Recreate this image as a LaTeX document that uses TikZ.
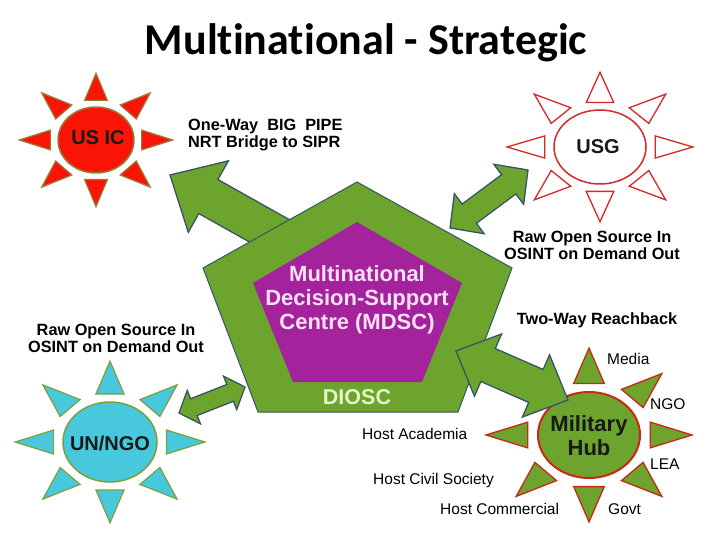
\documentclass[tikz,border=0pt]{standalone}
\usepackage{fontspec}
\setmainfont{Liberation Sans}
\newfontfamily\titlefont[Ligatures=NoCommon]{Carlito}
\usetikzlibrary{calc,shapes.geometric}

\definecolor{grn}{RGB}{108,164,46}
\definecolor{arrline}{RGB}{55,85,100}
\definecolor{purp}{RGB}{164,34,156}
\definecolor{purptext}{RGB}{250,225,245}
\definecolor{dioscc}{RGB}{230,245,200}
\definecolor{usicred}{RGB}{250,20,5}
\definecolor{usicline}{RGB}{150,125,60}
\definecolor{cyanfill}{RGB}{72,200,220}
\definecolor{cyanline}{RGB}{125,160,60}
\definecolor{hubline}{RGB}{200,40,20}
\definecolor{usgline}{RGB}{215,40,40}

% one-way block arrow: #1 tail, #2 tip, #3 shaft half width, #4 head half width, #5 head length
\newcommand{\onewayarrow}[5]{%
  \path ($(#2)!#5!(#1)$) coordinate (ah);
  \draw[blockarrow] ($(#1)!#3!90:(#2)$) -- ($(ah)!#3!90:(#2)$) -- ($(ah)!#4!90:(#2)$) -- (#2)
    -- ($(ah)!#4!-90:(#2)$) -- ($(ah)!#3!-90:(#2)$) -- ($(#1)!#3!-90:(#2)$) -- cycle;}
% two-way block arrow: #1 tip A, #2 tip B, #3 shaft half, #4 head half, #5 head length
\newcommand{\twowayarrow}[5]{%
  \path ($(#1)!#5!(#2)$) coordinate (ha) ($(#2)!#5!(#1)$) coordinate (hb);
  \draw[blockarrow] ($(ha)!#4!90:(#1)$) -- (#1) -- ($(ha)!#4!-90:(#1)$) -- ($(ha)!#3!-90:(#1)$)
    -- ($(hb)!#3!90:(#2)$) -- ($(hb)!#4!90:(#2)$) -- (#2) -- ($(hb)!#4!-90:(#2)$)
    -- ($(hb)!#3!-90:(#2)$) -- ($(ha)!#3!90:(#1)$) -- cycle;}
% sun rays: #1 centre, #2 rx, #3 ry, #4 fill, #5 draw, #6 line width
\newcommand{\sunrays}[6]{%
  \begin{scope}[shift={(#1)}, xscale=#2, yscale=#3]
    \foreach \a in {0,45,...,315}
      \draw[fill=#4, draw=#5, line width=#6, line join=miter, rotate=\a]
        (1.2,0.3) -- (2.02,0) -- (1.2,-0.3) -- cycle;
  \end{scope}}

\begin{document}
\begin{tikzpicture}[x=1pt,y=-1pt,
  bl/.style={font=\bfseries\fontsize{16.3}{17.5}\selectfont, inner sep=0pt, align=center},
  lab/.style={font=\fontsize{15.5}{17}\selectfont, inner sep=0pt, anchor=base west},
  suntext/.style={inner sep=0pt, font=\bfseries\fontsize{20}{24}\selectfont, align=center, text=black!90},
  blockarrow/.style={fill=grn, draw=arrline, line width=1.3pt, line join=miter}]

\useasboundingbox (0,0) rectangle (720,540);
\fill[white] (0,0) rectangle (720,540);

% title
\node[font=\titlefont\bfseries\fontsize{44}{44}\selectfont, anchor=base, inner sep=0pt] (title) at (366,55) {Multinational - Strategic};

% arrow to US IC (behind the pentagon)
\coordinate (a1tail) at (300,248);
\coordinate (a1tip) at (170,175);
\onewayarrow{a1tail}{a1tip}{19.5pt}{41pt}{44pt}

% pentagons
\coordinate (o1) at (357,182); \coordinate (o2) at (512,268); \coordinate (o3) at (458,412);
\coordinate (o4) at (258,412); \coordinate (o5) at (203,268);
\draw[fill=grn, draw=arrline, line width=1pt, line join=miter] (o1) -- (o2) -- (o3) -- (o4) -- (o5) -- cycle;
\coordinate (i1) at (357,222); \coordinate (i2) at (462,283); \coordinate (i3) at (422,382);
\coordinate (i4) at (293,382); \coordinate (i5) at (253,283);
\fill[purp] (i1) -- (i2) -- (i3) -- (i4) -- (i5) -- cycle;

\node[font=\bfseries\fontsize{22}{24}\selectfont, text=purptext, align=center, inner sep=0pt] (mdsc) at (357,300)
  {Multinational\\Decision-Support\\Centre (MDSC)};
\node[font=\bfseries\fontsize{21.5}{24}\selectfont, text=dioscc, anchor=base, inner sep=0pt] (diosc) at (357,404.7) {DIOSC};

% suns
\sunrays{96,140}{38}{33}{usicred}{usicline}{1.2pt}
\node[ellipse, minimum width=76pt, minimum height=66pt, fill=usicred, draw=usicline, line width=1.5pt] (usic) at (96,140) {};
\node[suntext, anchor=base] (usictext) at (98,145) {US IC};

\sunrays{600,147}{46}{37}{white}{usgline}{1.3pt}
\node[ellipse, minimum width=92pt, minimum height=74pt, fill=white, draw=usgline, line width=1.5pt] (usg) at (600,147) {};
\node[suntext, anchor=base] (usgtext) at (598,154) {USG};

\sunrays{110,442}{47}{40}{cyanfill}{cyanline}{1.2pt}
\node[ellipse, minimum width=94pt, minimum height=80pt, fill=cyanfill, draw=cyanline, line width=1.5pt] (unngo) at (110,442) {};
\node[suntext, anchor=base] (unngotext) at (110,450) {UN/NGO};

\sunrays{589,435}{51}{43}{grn}{hubline}{1.3pt}
\node[ellipse, minimum width=102pt, minimum height=86pt, fill=grn, draw=hubline, line width=2pt] (hub) at (589,435) {};
\node[suntext, font=\bfseries\fontsize{22}{24}\selectfont] (hubtext) at (589,436) {Military\\Hub};

% two-way arrows
\coordinate (a2a) at (450,228); \coordinate (a2b) at (528,170);
\twowayarrow{a2a}{a2b}{12pt}{25pt}{24pt}
\coordinate (a3a) at (179,413); \coordinate (a3b) at (245,387);
\twowayarrow{a3a}{a3b}{9pt}{18pt}{16pt}
\coordinate (a4a) at (456,351); \coordinate (a4b) at (568,400);
\twowayarrow{a4a}{a4b}{18pt}{34pt}{35pt}

% bold labels
\node[bl, align=left, anchor=west] (pipe) at (188,135) {One-Way\ \ BIG\ \ PIPE\\NRT Bridge to SIPR};
\node[bl] (rawright) at (592,245.5) {Raw Open Source In\\OSINT on Demand Out};
\node[bl] (rawleft) at (116,338.5) {Raw Open Source In\\OSINT on Demand Out};
\node[bl, anchor=base] (reach) at (597,324.8) {Two-Way Reachback};

% hub labels
\node[lab] (media) at (607,364.5) {Media};
\node[lab] (ngo) at (650,409.5) {NGO};
\node[lab] (lea) at (650,469.5) {LEA};
\node[lab] (govt) at (608,514.5) {Govt};
\node[lab] (acad) at (362,439.5) {Host Academia};
\node[lab] (civil) at (373,484.5) {Host Civil Society};
\node[lab] (comm) at (440,514.5) {Host Commercial};
\end{tikzpicture}
\end{document}
